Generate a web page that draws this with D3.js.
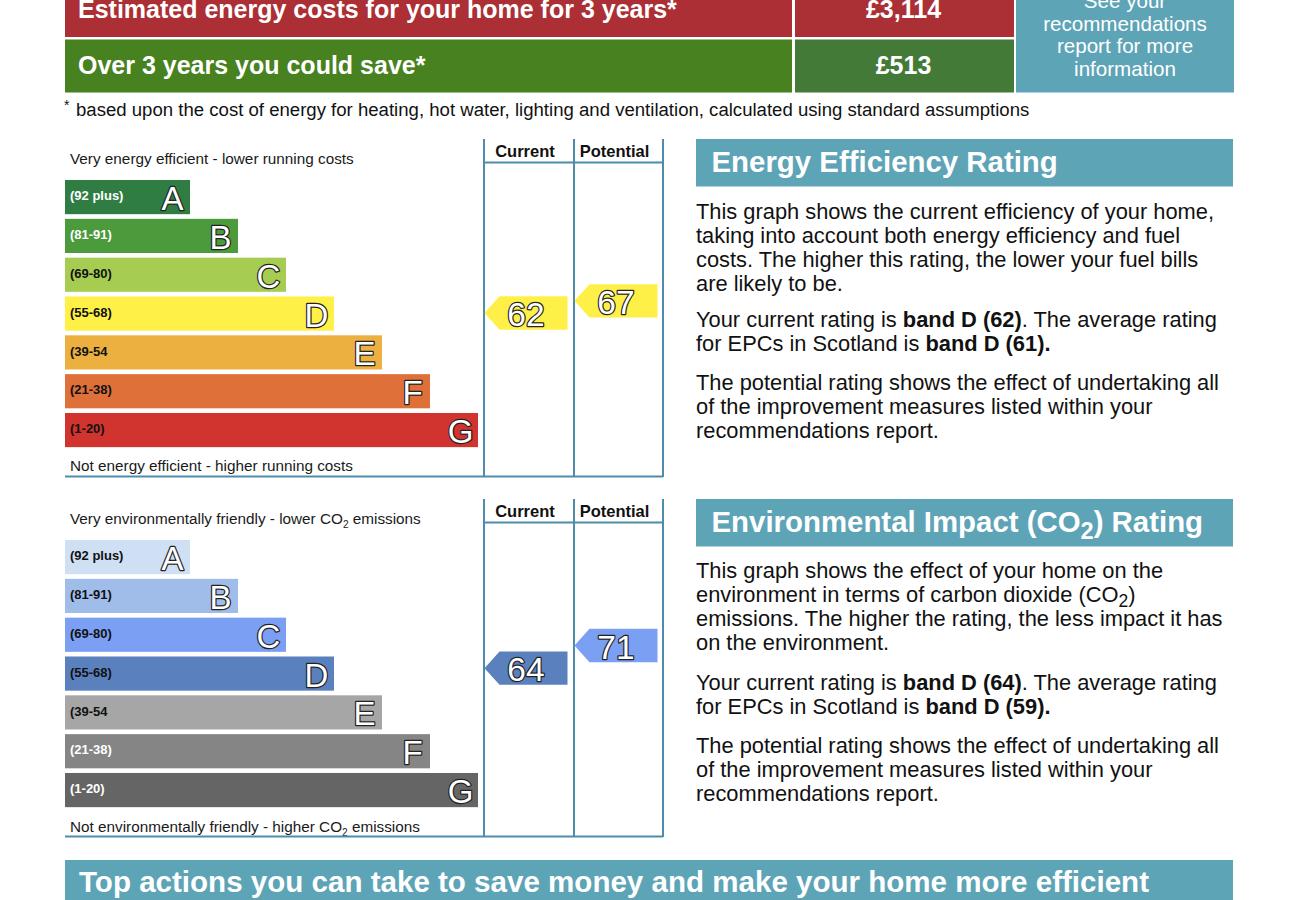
<!DOCTYPE html>
<html>
<head>
<meta charset="utf-8">
<script src="https://cdn.jsdelivr.net/npm/d3@7"></script>
<style>
  html, body { margin: 0; background: #fff; }
  svg { display: block; font-family: "Liberation Sans", Arial, sans-serif; }
</style>
</head>
<body>
<svg id="chart" width="1300" height="900"></svg>
<script>
// band data
const bandLetters = ['A', 'B', 'C', 'D', 'E', 'F', 'G']
const bandRanges = ['(92 plus)', '(81-91)', '(69-80)', '(55-68)', '(39-54', '(21-38)', '(1-20)']
const bandSteps = [1, 2, 3, 4, 5, 6, 7]
const bandFloors = [21, 39, 55, 69, 81, 92]

const energyColors = ['#2f7d43', '#4b9a3c', '#a6cc52', '#fff047', '#ecb040', '#e07039', '#d1332e']
const energyRangeColors = ['#fff', '#fff', '#111', '#111', '#111', '#111', '#111']
const co2Colors = ['#cfe0f4', '#a0bdea', '#7b9ff2', '#5a80be', '#a6a6a6', '#858585', '#656565']
const co2RangeColors = ['#111', '#111', '#111', '#111', '#111', '#fff', '#fff']

const energyRatings = [62, 67]
const co2Ratings = [64, 71]
const ratingColumns = ['Current', 'Potential']

// rating -> arrow centre, measured off the band tops
const ratingBreaks = [1, 21, 39, 55, 69, 71, 81, 92, 100]
const ratingOffsets = [267, 228, 189, 150, 116, 105.5, 78, 39, 5]

const costLabels = ['Estimated energy costs for your home for 3 years*', 'Over 3 years you could save*']
const costValues = ['£3,114', '£513']
const costColors = ['#ab2f35', '#478120']
const costValueColors = ['#ab3035', '#447a38']
const seeReport = ['See your', 'recommendations', 'report for more', 'information']

const energyBody = [
  ['This graph shows the current efficiency of your home,', 'taking into account both energy efficiency and fuel', 'costs. The higher this rating, the lower your fuel bills', 'are likely to be.'],
  ['Your current rating is <b>band D (62)</b>. The average rating', 'for EPCs in Scotland is <b>band D (61).</b>'],
  ['The potential rating shows the effect of undertaking all', 'of the improvement measures listed within your', 'recommendations report.']
]
const co2Body = [
  ['This graph shows the effect of your home on the', 'environment in terms of carbon dioxide (CO<s>2</s>)', 'emissions. The higher the rating, the less impact it has', 'on the environment.'],
  ['Your current rating is <b>band D (64)</b>. The average rating', 'for EPCs in Scotland is <b>band D (59).</b>'],
  ['The potential rating shows the effect of undertaking all', 'of the improvement measures listed within your', 'recommendations report.']
]

const teal = '#5ea4b7'
const rule = '#4f8cab'
const svg = d3.select('#chart')

const x = d3.scaleLinear().domain([1, 7]).range([190, 478])
const ratingY = d3.scaleLinear().domain(ratingBreaks).range(ratingOffsets)
const ratingBand = d3.scaleThreshold().domain(bandFloors).range([6, 5, 4, 3, 2, 1, 0])

// writes "<b>..</b>" and "<s>2</s>" markup out as tspans
function richText(sel, str, size, subScale = 0.66) {
  let backUp = 0
  str.split(/(<b>.*?<\/b>|<s>.*?<\/s>)/).filter(d => d).forEach(part => {
    if (part.startsWith('<s>')) {
      sel.append('tspan').attr('font-size', size * subScale).attr('dy', size * 0.24).text(part.slice(3, -4))
      backUp = size * 0.24
      return
    }
    const bold = part.startsWith('<b>')
    const span = sel.append('tspan').text(bold ? part.slice(3, -4) : part)
    if (bold) span.attr('font-weight', 'bold')
    if (backUp) span.attr('dy', -backUp)
    backUp = 0
  })
}

function outlined(sel) {
  return sel.attr('fill', '#fff')
    .attr('stroke', '#222')
    .attr('stroke-width', 2.4)
    .attr('paint-order', 'stroke')
    .attr('stroke-linejoin', 'round')
}

function ratingChart(top, opts) {
  const g = svg.append('g').attr('transform', `translate(0,${top})`)
  const y = d3.scaleBand().domain(bandLetters).range([41, 41 + 38.83 * 6.88]).paddingInner(0.12).paddingOuter(0)

  richText(g.append('text').attr('x', 70).attr('y', 25).attr('font-size', 15.3).attr('fill', '#1a1a1a'), opts.top, 15.3)
  richText(g.append('text').attr('x', 70).attr('y', opts.bottomY).attr('font-size', 15.3).attr('fill', '#1a1a1a'), opts.bottom, 15.3)

  const rows = g.selectAll('g.band').data(bandLetters).join('g').attr('class', 'band')
  rows.append('rect')
    .attr('x', 65)
    .attr('y', d => y(d))
    .attr('width', (d, i) => x(bandSteps[i]) - 65)
    .attr('height', y.bandwidth())
    .attr('fill', (d, i) => opts.colors[i])
  rows.append('text')
    .attr('x', 70)
    .attr('y', d => y(d) + y.bandwidth() / 2 + 3.2)
    .attr('font-size', 13)
    .attr('font-weight', 'bold')
    .attr('fill', (d, i) => opts.rangeColors[i])
    .text((d, i) => bandRanges[i])
  rows.append('text')
    .attr('x', (d, i) => x(bandSteps[i]) - 17.5)
    .attr('y', d => y(d) + y.bandwidth() / 2 + 13)
    .attr('text-anchor', 'middle')
    .attr('font-size', 33)
    .call(outlined)
    .text(d => d)

  // column frame
  const cols = [484, 574, 663]
  const frame = g.append('g').attr('stroke', rule).attr('stroke-width', 2).attr('fill', 'none')
  cols.forEach(c => frame.append('line').attr('x1', c).attr('x2', c).attr('y1', 0).attr('y2', 338))
  frame.append('line').attr('x1', 484).attr('x2', 663).attr('y1', 23.5).attr('y2', 23.5)
  frame.append('line').attr('x1', 65).attr('x2', 663).attr('y1', 337.5).attr('y2', 337.5)

  g.selectAll('text.col').data(ratingColumns).join('text')
    .attr('class', 'col')
    .attr('x', (d, i) => (cols[i] + cols[i + 1]) / 2 - 4)
    .attr('y', 17.5)
    .attr('text-anchor', 'middle')
    .attr('font-size', 16.5)
    .attr('font-weight', 'bold')
    .attr('fill', '#111')
    .text(d => d)

  // rating pointers
  const pointer = g.selectAll('g.pointer').data(opts.ratings).join('g')
    .attr('class', 'pointer')
    .attr('transform', (d, i) => `translate(${cols[i] + 0.5},${41 + ratingY(d)})`)
  pointer.append('path')
    .attr('d', 'M0,0L15,-16.7H83V16.7H15Z')
    .attr('fill', d => opts.colors[ratingBand(d)])
  pointer.append('text')
    .attr('x', 41.5)
    .attr('y', 13)
    .attr('text-anchor', 'middle')
    .attr('font-size', 33.5)
    .call(outlined)
    .text(d => d)
}

function sideText(top, title, paragraphs, gaps, firstBase) {
  const g = svg.append('g').attr('transform', `translate(0,${top})`)
  g.append('rect').attr('x', 696).attr('y', 0).attr('width', 537).attr('height', 47.5).attr('fill', teal)
  const head = g.append('text').attr('x', 711.5).attr('y', 32.5).attr('font-size', 29.4).attr('font-weight', 'bold').attr('fill', '#fff')
  richText(head, title, 29.4, 0.8)

  let line = 0
  paragraphs.forEach((lines, p) => {
    lines.forEach(str => {
      const t = g.append('text').attr('x', 696).attr('y', firstBase + line).attr('font-size', 21.85).attr('fill', '#111')
      richText(t, str, 21.85, 0.8)
      line += 24
    })
    line += gaps[p] || 0
  })
}

// header table
const headTop = [-15, 39.5]
const headBase = [18, 73.5]
costLabels.forEach((label, i) => {
  svg.append('rect').attr('x', 65).attr('y', headTop[i]).attr('width', 727).attr('height', i ? 53 : 52).attr('fill', costColors[i])
  svg.append('rect').attr('x', 795).attr('y', headTop[i]).attr('width', 219).attr('height', i ? 53 : 52).attr('fill', costValueColors[i])
  svg.append('text').attr('x', 78).attr('y', headBase[i]).attr('font-size', 25).attr('font-weight', 'bold').attr('fill', '#fff').text(label)
  svg.append('text').attr('x', 903.5).attr('y', headBase[i]).attr('text-anchor', 'middle').attr('font-size', 25).attr('font-weight', 'bold').attr('fill', '#fff').text(costValues[i])
})
svg.append('rect').attr('x', 1016).attr('y', -15).attr('width', 218).attr('height', 107.5).attr('fill', teal)
svg.selectAll('text.see').data(seeReport).join('text')
  .attr('class', 'see')
  .attr('x', 1125)
  .attr('y', (d, i) => 8 + i * 22.5)
  .attr('text-anchor', 'middle')
  .attr('font-size', 20.6)
  .attr('fill', '#fff')
  .text(d => d)

svg.append('text').attr('x', 64).attr('y', 110).attr('font-size', 14).attr('fill', '#111').text('*')
svg.append('text').attr('x', 76).attr('y', 116).attr('font-size', 18.58).attr('fill', '#111')
  .text('based upon the cost of energy for heating, hot water, lighting and ventilation, calculated using standard assumptions')

ratingChart(139, {
  top: 'Very energy efficient - lower running costs',
  bottom: 'Not energy efficient - higher running costs',
  bottomY: 332,
  colors: energyColors,
  rangeColors: energyRangeColors,
  ratings: energyRatings
})
ratingChart(499, {
  top: 'Very environmentally friendly - lower CO<s>2</s> emissions',
  bottom: 'Not environmentally friendly - higher CO<s>2</s> emissions',
  bottomY: 333,
  colors: co2Colors,
  rangeColors: co2RangeColors,
  ratings: co2Ratings
})

sideText(139, 'Energy Efficiency Rating', energyBody, [12, 15], 79.5)
sideText(499, 'Environmental Impact (CO<s>2</s>) Rating', co2Body, [16, 15], 78.5)

// footer banner
svg.append('rect').attr('x', 65).attr('y', 860).attr('width', 1168).attr('height', 60).attr('fill', teal)
svg.append('text').attr('x', 79).attr('y', 892).attr('font-size', 29.55).attr('font-weight', 'bold').attr('fill', '#fff')
  .text('Top actions you can take to save money and make your home more efficient')
</script>
</body>
</html>
